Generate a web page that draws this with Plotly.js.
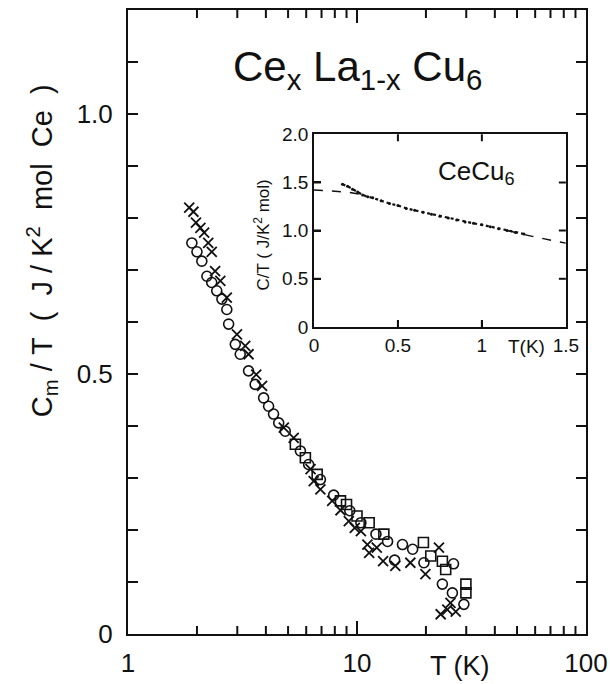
<!DOCTYPE html>
<html><head><meta charset="utf-8">
<script src="https://cdn.plot.ly/plotly-3.0.1.min.js"></script>
<style>html,body{margin:0;padding:0;background:#fff}</style>
</head><body><div id="chart" style="width:610px;height:684px"></div>
<script>
// Main plot: Cm/T vs T (log), three sample series
const crossT = [1.85,1.93,1.98,2.07,2.15,2.24,2.32,2.40,2.53,2.70,2.99,3.25,3.36,3.63,3.85,4.79,5.29,6.27,6.47,6.92,7.79,8.47,9.21,9.78,10.4,11.1,12.2,11.3,13.0,14.7,17.1,22.8,19.9,25.6,24.8,23.2,27.0];
const crossC = [0.820,0.812,0.791,0.781,0.772,0.752,0.735,0.698,0.679,0.647,0.576,0.554,0.538,0.499,0.477,0.397,0.377,0.317,0.294,0.278,0.256,0.238,0.217,0.204,0.198,0.172,0.166,0.156,0.140,0.131,0.137,0.166,0.115,0.060,0.047,0.038,0.043];
const circT = [1.90,2.00,2.10,2.21,2.32,2.44,2.57,2.70,2.75,2.94,3.09,3.36,3.59,3.91,4.11,4.32,4.55,4.86,5.66,6.15,6.92,7.91,9.30,10.4,12.1,13.6,15.8,17.5,14.6,19.6,26.4,23.6,26.1,29.3];
const circC = [0.752,0.735,0.717,0.688,0.676,0.660,0.644,0.624,0.596,0.557,0.538,0.506,0.480,0.454,0.438,0.423,0.406,0.390,0.352,0.326,0.297,0.267,0.237,0.214,0.192,0.178,0.172,0.163,0.142,0.137,0.135,0.096,0.079,0.057];
const sqT = [5.38,5.95,6.70,8.47,9.00,10.0,11.3,13.1,19.5,21.0,23.6,24.4,29.9,29.9];
const sqC = [0.365,0.339,0.307,0.256,0.249,0.227,0.214,0.192,0.176,0.150,0.140,0.124,0.096,0.079];

// Inset: CeCu6 C/T vs T (linear)
const insetT = [0.17,0.2,0.23,0.26,0.29,0.32,0.35,0.4,0.45,0.5,0.55,0.6,0.65,0.7,0.75,0.8,0.85,0.9,0.95,1.0,1.05,1.1,1.15,1.2,1.25];
const insetC = [1.48,1.46,1.43,1.40,1.37,1.35,1.34,1.31,1.28,1.26,1.23,1.21,1.19,1.17,1.15,1.13,1.11,1.09,1.075,1.06,1.04,1.02,1.0,0.98,0.965];
const extLowT = [0, 0.1, 0.2, 0.3];
const extLowC = [1.42, 1.41, 1.40, 1.37];
const extHighT = [1.15, 1.3, 1.5];
const extHighC = [1.0, 0.94, 0.87];

// Tick labels
const mainXMajor = [1, 10, 100];
const mainXMajorText = ["1", "10", "100"];
const mainXMinor = [2,3,4,5,6,7,8,9,20,30,40,50,60,70,80,90];
const mainYTicks = [0,0.1,0.2,0.3,0.4,0.5,0.6,0.7,0.8,0.9,1.0,1.1];
const mainYText = ["0","","","","","0.5","","","","","1.0",""];
const insetXTicks = [0, 0.5, 1, 1.5];
const insetXText = ["0", "0.5", "1", "1.5"];
const insetYTicks = [0, 0.5, 1, 1.5, 2];
const insetYText = ["0", "0.5", "1.0", "1.5", "2.0"];

const ink = '#111111';
const FONT = 'Liberation Sans';
const XR = [-0.0002, 2.0002];
const YR = [0, 1.2];
const NB = '\u00a0';
const S2 = NB + NB;

const traces = [
  {x: circT, y: circC, mode: 'markers', type: 'scatter', xaxis: 'x', yaxis: 'y',
   marker: {symbol: 'circle-open', size: 10, color: ink, line: {width: 1.6, color: ink}}},
  {x: sqT, y: sqC, mode: 'markers', type: 'scatter', xaxis: 'x', yaxis: 'y',
   marker: {symbol: 'square-open', size: 10, color: ink, line: {width: 1.6, color: ink}}},
  {x: crossT, y: crossC, mode: 'markers', type: 'scatter', xaxis: 'x', yaxis: 'y',
   marker: {symbol: 'x-thin-open', size: 10, color: ink, line: {width: 1.8, color: ink}}},
  {x: extLowT, y: extLowC, mode: 'lines', type: 'scatter', xaxis: 'x2', yaxis: 'y2',
   line: {color: ink, width: 1.5, dash: 'dash'}},
  {x: extHighT, y: extHighC, mode: 'lines', type: 'scatter', xaxis: 'x2', yaxis: 'y2',
   line: {color: ink, width: 1.5, dash: 'dash'}},
  {x: insetT, y: insetC, mode: 'lines+markers', type: 'scatter', xaxis: 'x2', yaxis: 'y2',
   line: {color: ink, width: 2.2, dash: 'dot'},
   marker: {symbol: 'circle', size: 3, color: ink}}
];

// Tick marks drawn as axis-referenced segments (inside, mirrored on both sides)
const shapes = [];
const tl = (o) => Object.assign({type: 'line', layer: 'above', line: {color: ink, width: 2}}, o);
const fracX = v => (Math.log10(v) - XR[0]) / (XR[1] - XR[0]);
const mainH = 624, mainW = 458, insW = 252, insH = 193;
mainXMinor.forEach(v => {
  const f = fracX(v), L = 8 / mainH;
  shapes.push(tl({xref: 'x domain', yref: 'y domain', x0: f, x1: f, y0: 0, y1: L}));
  shapes.push(tl({xref: 'x domain', yref: 'y domain', x0: f, x1: f, y0: 1, y1: 1 - L}));
});
[10].forEach(v => {
  const f = fracX(v), L = 13 / mainH;
  shapes.push(tl({xref: 'x domain', yref: 'y domain', x0: f, x1: f, y0: 0, y1: L}));
  shapes.push(tl({xref: 'x domain', yref: 'y domain', x0: f, x1: f, y0: 1, y1: 1 - L}));
});
mainYTicks.slice(1).forEach(v => {
  const L = 10 / mainW;
  shapes.push(tl({xref: 'x domain', yref: 'y', x0: 0, x1: L, y0: v, y1: v}));
  shapes.push(tl({xref: 'x domain', yref: 'y', x0: 1, x1: 1 - L, y0: v, y1: v}));
});
insetXTicks.slice(1, -1).forEach(v => {
  const L = 7 / insH;
  shapes.push(tl({xref: 'x2', yref: 'y2 domain', x0: v, x1: v, y0: 0, y1: L}));
  shapes.push(tl({xref: 'x2', yref: 'y2 domain', x0: v, x1: v, y0: 1, y1: 1 - L}));
});
insetYTicks.slice(1, -1).forEach(v => {
  const L = 7 / insW;
  shapes.push(tl({xref: 'x2 domain', yref: 'y2', x0: 0, x1: L, y0: v, y1: v}));
  shapes.push(tl({xref: 'x2 domain', yref: 'y2', x0: 1, x1: 1 - L, y0: v, y1: v}));
});

const layout = {
  width: 610, height: 684,
  margin: {l: 128, r: 24, t: 10, b: 50},
  showlegend: false,
  paper_bgcolor: '#ffffff', plot_bgcolor: 'rgba(0,0,0,0)',
  font: {family: FONT, size: 26, color: ink},
  xaxis: {
    type: 'log', range: XR, showgrid: false, zeroline: false,
    showline: true, linecolor: ink, linewidth: 2, mirror: true,
    ticks: 'inside', ticklen: 13, tickwidth: 2, tickcolor: ink,
    tickmode: 'array', tickvals: mainXMajor, ticktext: mainXMajorText,
    ticklabelstandoff: 5
  },
  yaxis: {
    range: YR, showgrid: false, zeroline: false,
    showline: true, linecolor: ink, linewidth: 2, mirror: true,
    ticks: 'inside', ticklen: 10, tickwidth: 2, tickcolor: ink,
    tickmode: 'array', tickvals: mainYTicks, ticktext: mainYText,
    ticklabelstandoff: 8
  },
  xaxis2: {
    anchor: 'y2', domain: [0.406, 0.956], range: [0, 1.5], showgrid: false, zeroline: false,
    showline: true, linecolor: ink, linewidth: 1.8, mirror: true,
    ticks: 'inside', ticklen: 7, tickwidth: 2, tickcolor: ink,
    tickmode: 'array', tickvals: insetXTicks, ticktext: insetXText,
    tickfont: {size: 19}
  },
  yaxis2: {
    anchor: 'x2', domain: [0.492, 0.801], range: [0, 2.0], showgrid: false, zeroline: false,
    showline: true, linecolor: ink, linewidth: 1.8, mirror: true,
    ticks: 'inside', ticklen: 7, tickwidth: 2, tickcolor: ink,
    tickmode: 'array', tickvals: insetYTicks, ticktext: insetYText,
    tickfont: {size: 19}
  },
  shapes: shapes,
  annotations: [
    {xref: 'paper', yref: 'paper', x: 0.502, y: 0.904, xanchor: 'center', yanchor: 'middle', showarrow: false,
     text: 'Ce<sub>x</sub> La<sub>1-x</sub> Cu<sub>6</sub>', font: {size: 42}},
    {xref: 'paper', yref: 'paper', x: -0.188, y: 0.615, xanchor: 'center', yanchor: 'middle', showarrow: false, textangle: -90,
     text: 'C<sub>m</sub>' + NB + '/' + NB + 'T' + S2 + '(' + S2 + 'J' + NB + '/' + NB + 'K<sup>2</sup>' + S2 + 'mol' + S2 + 'Ce' + S2 + ')',
     font: {size: 29}},
    {xref: 'paper', yref: 'paper', x: 0.725, y: -0.051, xanchor: 'center', yanchor: 'middle', showarrow: false,
     text: 'T (K)', font: {size: 27}},
    {xref: 'paper', yref: 'paper', x: 0.762, y: 0.740, xanchor: 'center', yanchor: 'middle', showarrow: false,
     text: 'CeCu<sub>6</sub>', font: {size: 26}},
    {xref: 'paper', yref: 'paper', x: 0.871, y: 0.4615, xanchor: 'center', yanchor: 'middle', showarrow: false,
     text: 'T(K)', font: {size: 19}},
    {xref: 'paper', yref: 'paper', x: 0.293, y: 0.639, xanchor: 'center', yanchor: 'middle', showarrow: false, textangle: -90,
     text: 'C/T ( J/K<sup>2</sup> mol)', font: {size: 17}}
  ]
};

Plotly.newPlot('chart', traces, layout, {staticPlot: true});
</script></body></html>
